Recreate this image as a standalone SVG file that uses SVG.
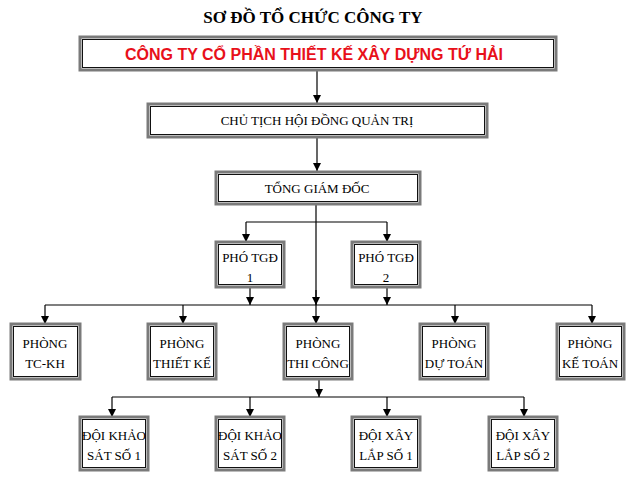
<svg xmlns="http://www.w3.org/2000/svg" width="627" height="482" viewBox="0 0 627 482">
<defs>
<marker id="ah" viewBox="0 0 10 10" refX="10" refY="5" markerWidth="8" markerHeight="8" markerUnits="userSpaceOnUse" orient="auto"><path d="M0,0 L10,5 L0,10 z" fill="#000"/></marker>
<style>
.o{fill:#fff;stroke:#7a7a7a;stroke-width:3}
.i{fill:none;stroke:#111;stroke-width:1}
.t{font-family:"Liberation Serif",serif;font-size:13px;fill:#000;text-anchor:middle}
.c{fill:none;stroke:#000;stroke-width:1.2}
.a{marker-end:url(#ah)}
</style>
</defs>
<rect width="627" height="482" fill="#fff"/>
<text x="313" y="23" font-family="Liberation Serif,serif" font-size="17" font-weight="bold" text-anchor="middle">SƠ ĐỒ TỔ CHỨC CÔNG TY</text>
<g id="connectors">
<path class="c a" d="M317,70 V103"/>
<path class="c a" d="M317,137 V171"/>
<path class="c" d="M246,222 H387"/>
<path class="c a" d="M246,222 V242"/>
<path class="c a" d="M387,222 V242"/>
<path class="c" d="M316,204 V305"/>
<path class="c a" d="M316,290 V305"/>
<path class="c a" d="M250,287 V305"/>
<path class="c a" d="M387,287 V305"/>
<path class="c" d="M45,305 H592"/>
<path class="c a" d="M45,305 V324"/>
<path class="c a" d="M183,305 V324"/>
<path class="c a" d="M316,305 V324"/>
<path class="c a" d="M455,305 V324"/>
<path class="c a" d="M592,305 V324"/>
<path class="c a" d="M319,379 V397"/>
<path class="c" d="M112,397 H524"/>
<path class="c a" d="M112,397 V417"/>
<path class="c a" d="M250,397 V417"/>
<path class="c a" d="M387,397 V417"/>
<path class="c a" d="M524,397 V417"/>
</g>
<g id="congty"><rect class="o" x="80" y="37" width="476" height="33"/><rect class="i" x="82.5" y="39.5" width="471" height="28"/>
<text x="314" y="60" font-family="Liberation Sans,sans-serif" font-size="16" font-weight="bold" fill="#e8101a" text-anchor="middle">CÔNG TY CỔ PHẦN THIẾT KẾ XÂY DỰNG TỨ HẢI</text></g>
<g id="chutich"><rect class="o" x="148" y="104" width="339" height="33"/><rect class="i" x="150.5" y="106.5" width="334" height="28"/><text class="t" x="317" y="125">CHỦ TỊCH HỘI ĐỒNG QUẢN TRỊ</text></g>
<g id="tgd"><rect class="o" x="216" y="172" width="204" height="32"/><rect class="i" x="218.5" y="174.5" width="199" height="27"/><text class="t" x="317" y="193">TỔNG GIÁM ĐỐC</text></g>
<g id="pho1"><rect class="o" x="216" y="242" width="68" height="45"/><rect class="i" x="218.5" y="244.5" width="63" height="40"/><text class="t" x="250" y="262">PHÓ TGĐ</text><text class="t" x="250" y="282">1</text></g>
<g id="pho2"><rect class="o" x="352" y="242" width="68" height="45"/><rect class="i" x="354.5" y="244.5" width="63" height="40"/><text class="t" x="386" y="262">PHÓ TGĐ</text><text class="t" x="386" y="282">2</text></g>
<g id="tckh"><rect class="o" x="11" y="324" width="69" height="55"/><rect class="i" x="13.5" y="326.5" width="64" height="50"/><text class="t" x="45" y="348">PHÒNG</text><text class="t" x="45" y="368">TC-KH</text></g>
<g id="thietke"><rect class="o" x="148" y="324" width="68" height="55"/><rect class="i" x="150.5" y="326.5" width="63" height="50"/><text class="t" x="182" y="348">PHÒNG</text><text class="t" x="182" y="368">THIẾT KẾ</text></g>
<g id="thicong"><rect class="o" x="284" y="324" width="68" height="55"/><rect class="i" x="286.5" y="326.5" width="63" height="50"/><text class="t" x="318" y="348">PHÒNG</text><text class="t" x="318" y="368">THI CÔNG</text></g>
<g id="dutoan"><rect class="o" x="420" y="324" width="68" height="55"/><rect class="i" x="422.5" y="326.5" width="63" height="50"/><text class="t" x="454" y="348">PHÒNG</text><text class="t" x="454" y="368">DỰ TOÁN</text></g>
<g id="ketoan"><rect class="o" x="557" y="324" width="67" height="55"/><rect class="i" x="559.5" y="326.5" width="62" height="50"/><text class="t" x="590" y="348">PHÒNG</text><text class="t" x="590" y="368">KẾ TOÁN</text></g>
<g id="ks1"><rect class="o" x="80" y="417" width="68" height="53"/><rect class="i" x="82.5" y="419.5" width="63" height="48"/><text class="t" x="114" y="440">ĐỘI KHẢO</text><text class="t" x="114" y="460">SÁT SỐ 1</text></g>
<g id="ks2"><rect class="o" x="216" y="417" width="68" height="53"/><rect class="i" x="218.5" y="419.5" width="63" height="48"/><text class="t" x="250" y="440">ĐỘI KHẢO</text><text class="t" x="250" y="460">SÁT SỐ 2</text></g>
<g id="xl1"><rect class="o" x="352" y="417" width="68" height="53"/><rect class="i" x="354.5" y="419.5" width="63" height="48"/><text class="t" x="386" y="440">ĐỘI XÂY</text><text class="t" x="386" y="460">LẮP SỐ 1</text></g>
<g id="xl2"><rect class="o" x="489" y="417" width="68" height="53"/><rect class="i" x="491.5" y="419.5" width="63" height="48"/><text class="t" x="523" y="440">ĐỘI XÂY</text><text class="t" x="523" y="460">LẮP SỐ 2</text></g>
</svg>
